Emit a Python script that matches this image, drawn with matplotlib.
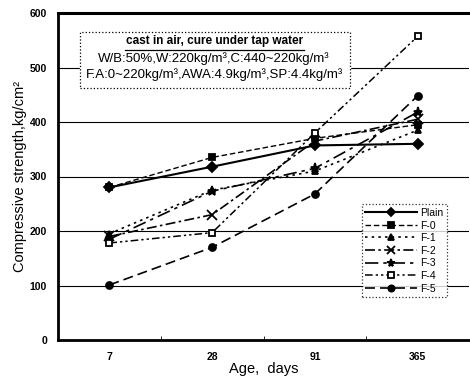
import numpy as np
import matplotlib
matplotlib.use("Agg")
import matplotlib.pyplot as plt

plt.rcParams['font.family'] = ['Liberation Sans', 'DejaVu Sans']

# data
ages = ["7", "28", "91", "365"]
plain = [280, 318, 357, 360]
f0 = [280, 335, 370, 395]
f1 = [195, 275, 310, 385]
f2 = [190, 230, 365, 405]
f3 = [185, 273, 315, 418]
f4 = [178, 197, 380, 557]
f5 = [101, 170, 268, 448]

names = ["Plain", "F-0", "F-1", "F-2", "F-3", "F-4", "F-5"]
series = [plain, f0, f1, f2, f3, f4, f5]
markers = ["D", "s", "^", "x", "*", "s", "o"]
styles = ["-", (0, (4, 2)), (0, (1.5, 2.5)), (0, (6, 2, 1.5, 2)),
          (0, (8, 3, 2, 3)), (0, (5, 2, 1.5, 2, 1.5, 2)), (0, (6, 3))]
widths = [1.5, 1.0, 1.2, 1.2, 1.2, 1.1, 1.2]

fig = plt.figure(figsize=(4.7, 3.77), dpi=100)
ax = fig.add_axes([58/470, 1-340/377, 411/470, (340-13)/377])

x = np.arange(len(ages))
for name, ys, m, ls, lw in zip(names, series, markers, styles, widths):
    face = "white" if name == "F-4" else "black"
    ax.plot(x, ys, color="black", linestyle=ls, linewidth=lw, marker=m,
            markersize=5 if m not in ("*", "x") else 6.5, markerfacecolor=face,
            markeredgecolor="black", markeredgewidth=1.3, label=name)

ax.set_xlim(-0.5, 3.5)
ax.set_ylim(0, 600)
ax.set_yticks(np.arange(0, 601, 100))
ax.set_xticks(x)
ax.set_xticklabels(ages)
ax.set_xticks([0.5, 1.5, 2.5], minor=True)
ax.tick_params(axis="x", which="major", length=0, pad=9, labelsize=7.5)
ax.tick_params(axis="x", which="minor", length=3, direction="in")
ax.tick_params(axis="y", length=0, pad=8, labelsize=7.5)
for lab in ax.get_xticklabels() + ax.get_yticklabels():
    lab.set_fontweight("bold")

ax.grid(axis="y", color="black", linewidth=0.8)
ax.set_axisbelow(True)
ax.spines["right"].set_visible(False)
ax.spines["top"].set_linewidth(2.2)
ax.spines["left"].set_linewidth(2.0)
ax.spines["bottom"].set_linewidth(2.0)

ax.set_ylabel("Compressive strength,kg/cm²", fontsize=10.5, labelpad=2)
ax.set_xlabel("Age,  days", fontsize=10.5, labelpad=0)

# note box
ax.add_patch(plt.Rectangle((-0.29, 463), 2.63, 102, fill=False, linestyle=":",
                           linewidth=0.9, edgecolor="black", zorder=3))
ax.fill_between([-0.29, 2.34], 463, 565, color="white", zorder=2)
ax.text(1.02, 548, "cast in air, cure under tap water", ha="center", va="center",
        fontsize=8.5, fontweight="bold", zorder=4)
ax.plot([0.15, 1.89], [533, 533], color="black", linewidth=0.9, zorder=4)
ax.text(1.02, 517, "W/B:50%,W:220kg/m³,C:440~220kg/m³", ha="center",
        va="center", fontsize=9.5, zorder=4)
ax.text(1.02, 487, "F.A:0~220kg/m³,AWA:4.9kg/m³,SP:4.4kg/m³", ha="center",
        va="center", fontsize=9.5, zorder=4)

leg = ax.legend(loc="lower right", bbox_to_anchor=(0.96, 0.115), fontsize=7.5,
                frameon=True, fancybox=False, handlelength=5.0, handletextpad=0.3,
                labelspacing=0.25, borderpad=0.35, markerscale=0.9)
leg.get_frame().set_edgecolor("black")
leg.get_frame().set_linestyle(":")
leg.get_frame().set_linewidth(0.9)

fig.savefig("out.png", dpi=100)
